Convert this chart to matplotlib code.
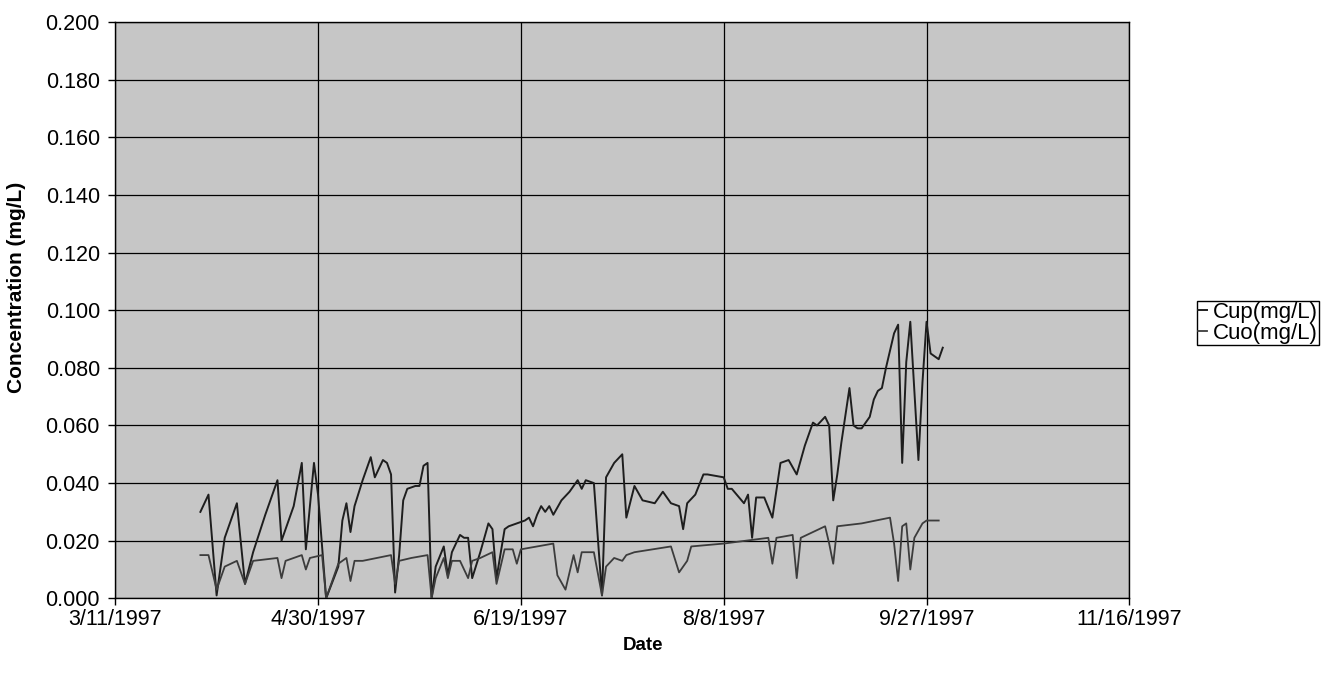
import matplotlib
matplotlib.use("Agg")
import matplotlib.pyplot as plt
import matplotlib.dates as mdates
import pandas as pd
from matplotlib.ticker import FixedLocator, FuncFormatter

plt.rcParams['font.family'] = ['Liberation Sans', 'DejaVu Sans']

# Cu concentrations, mg/L
cup_dates = [
    "1997-04-01", "1997-04-03", "1997-04-05", "1997-04-07", "1997-04-10", "1997-04-12", "1997-04-14",
    "1997-04-17", "1997-04-20", "1997-04-21", "1997-04-24", "1997-04-26", "1997-04-27", "1997-04-29",
    "1997-04-30",
    "1997-05-02", "1997-05-05", "1997-05-06", "1997-05-07", "1997-05-08", "1997-05-09", "1997-05-11",
    "1997-05-13", "1997-05-14", "1997-05-16", "1997-05-17", "1997-05-18", "1997-05-19", "1997-05-20",
    "1997-05-21", "1997-05-22", "1997-05-24", "1997-05-25", "1997-05-26", "1997-05-27", "1997-05-28",
    "1997-05-29", "1997-05-31",
    "1997-06-01", "1997-06-02", "1997-06-04", "1997-06-05", "1997-06-06", "1997-06-07", "1997-06-09",
    "1997-06-11", "1997-06-12", "1997-06-13", "1997-06-15", "1997-06-16", "1997-06-18", "1997-06-20",
    "1997-06-21", "1997-06-22", "1997-06-23", "1997-06-24", "1997-06-25", "1997-06-26", "1997-06-27",
    "1997-06-29",
    "1997-07-01", "1997-07-03", "1997-07-04", "1997-07-05", "1997-07-07", "1997-07-09", "1997-07-10",
    "1997-07-12", "1997-07-14", "1997-07-15", "1997-07-17", "1997-07-19", "1997-07-22", "1997-07-24",
    "1997-07-26", "1997-07-28", "1997-07-29", "1997-07-30",
    "1997-08-01", "1997-08-03", "1997-08-04", "1997-08-08", "1997-08-09", "1997-08-10", "1997-08-13",
    "1997-08-14", "1997-08-15", "1997-08-16", "1997-08-18", "1997-08-20", "1997-08-22", "1997-08-24",
    "1997-08-26", "1997-08-28", "1997-08-30", "1997-08-31",
    "1997-09-02", "1997-09-03", "1997-09-04", "1997-09-05", "1997-09-06", "1997-09-08", "1997-09-09",
    "1997-09-10", "1997-09-11", "1997-09-13", "1997-09-14", "1997-09-15", "1997-09-16", "1997-09-17",
    "1997-09-19", "1997-09-20", "1997-09-21", "1997-09-22", "1997-09-23", "1997-09-25", "1997-09-26",
    "1997-09-27", "1997-09-28", "1997-09-30",
    "1997-10-01",
]
cup_values = [
    0.030, 0.036, 0.001, 0.021, 0.033, 0.005, 0.016, 0.029, 0.041, 0.020, 0.032, 0.047, 0.017, 0.047,
    0.036,
    0.000, 0.011, 0.027, 0.033, 0.023, 0.032, 0.041, 0.049, 0.042, 0.048, 0.047, 0.043, 0.002, 0.015,
    0.034, 0.038, 0.039, 0.039, 0.046, 0.047, 0.000, 0.011, 0.018,
    0.008, 0.016, 0.022, 0.021, 0.021, 0.007, 0.016, 0.026, 0.024, 0.007, 0.024, 0.025, 0.026, 0.027,
    0.028, 0.025, 0.029, 0.032, 0.030, 0.032, 0.029, 0.034,
    0.037, 0.041, 0.038, 0.041, 0.040, 0.001, 0.042, 0.047, 0.050, 0.028, 0.039, 0.034, 0.033, 0.037,
    0.033, 0.032, 0.024, 0.033,
    0.036, 0.043, 0.043, 0.042, 0.038, 0.038, 0.033, 0.036, 0.021, 0.035, 0.035, 0.028, 0.047, 0.048,
    0.043, 0.053, 0.061, 0.060,
    0.063, 0.060, 0.034, 0.043, 0.054, 0.073, 0.060, 0.059, 0.059, 0.063, 0.069, 0.072, 0.073, 0.080,
    0.092, 0.095, 0.047, 0.082, 0.096, 0.048, 0.075, 0.096, 0.085, 0.083,
    0.087,
]

cuo_dates = [
    "1997-04-01", "1997-04-03", "1997-04-05", "1997-04-07", "1997-04-10", "1997-04-12", "1997-04-14",
    "1997-04-20", "1997-04-21", "1997-04-22", "1997-04-26", "1997-04-27", "1997-04-28",
    "1997-05-01", "1997-05-02", "1997-05-05", "1997-05-07", "1997-05-08", "1997-05-09", "1997-05-11",
    "1997-05-18", "1997-05-19", "1997-05-20", "1997-05-23", "1997-05-27", "1997-05-28", "1997-05-29",
    "1997-05-31",
    "1997-06-01", "1997-06-02", "1997-06-04", "1997-06-06", "1997-06-07", "1997-06-09", "1997-06-12",
    "1997-06-13", "1997-06-15", "1997-06-17", "1997-06-18", "1997-06-19", "1997-06-27", "1997-06-28",
    "1997-06-30",
    "1997-07-02", "1997-07-03", "1997-07-04", "1997-07-07", "1997-07-09", "1997-07-10", "1997-07-12",
    "1997-07-14", "1997-07-15", "1997-07-17", "1997-07-26", "1997-07-28", "1997-07-30", "1997-07-31",
    "1997-08-08", "1997-08-19", "1997-08-20", "1997-08-21", "1997-08-25", "1997-08-26", "1997-08-27",
    "1997-09-02", "1997-09-03", "1997-09-04", "1997-09-05", "1997-09-11", "1997-09-18", "1997-09-19",
    "1997-09-20", "1997-09-21", "1997-09-22", "1997-09-23", "1997-09-24", "1997-09-26", "1997-09-27",
    "1997-09-30",
]
cuo_values = [
    0.015, 0.015, 0.003, 0.011, 0.013, 0.005, 0.013, 0.014, 0.007, 0.013, 0.015, 0.010, 0.014,
    0.015, 0.000, 0.012, 0.014, 0.006, 0.013, 0.013, 0.015, 0.005, 0.013, 0.014, 0.015, 0.000, 0.007,
    0.014,
    0.007, 0.013, 0.013, 0.007, 0.013, 0.014, 0.016, 0.005, 0.017, 0.017, 0.012, 0.017, 0.019, 0.008,
    0.003,
    0.015, 0.009, 0.016, 0.016, 0.001, 0.011, 0.014, 0.013, 0.015, 0.016, 0.018, 0.009, 0.013, 0.018,
    0.019, 0.021, 0.012, 0.021, 0.022, 0.007, 0.021,
    0.025, 0.019, 0.012, 0.025, 0.026, 0.028, 0.019, 0.006, 0.025, 0.026, 0.010, 0.021, 0.026, 0.027,
    0.027,
]

x_ticks = ["1997-03-11", "1997-04-30", "1997-06-19", "1997-08-08", "1997-09-27", "1997-11-16"]
y_ticks = [0.000, 0.020, 0.040, 0.060, 0.080, 0.100, 0.120, 0.140, 0.160, 0.180, 0.200]


def excel_date(x, pos=None):
    # m/d/yyyy without leading zeros
    d = mdates.num2date(x)
    return f"{d.month}/{d.day}/{d.year}"


def draw():
    fig = plt.figure(figsize=(13.24, 6.73), dpi=100)
    ax = fig.add_axes([0.087, 0.111, 0.766, 0.856])
    ax.set_facecolor('#c6c6c6')

    cup_x = pd.to_datetime(cup_dates)
    cuo_x = pd.to_datetime(cuo_dates)
    ax.plot(cup_x, cup_values, color='#1e1e1e', linewidth=1.4, label='Cup(mg/L)', zorder=3)
    ax.plot(cuo_x, cuo_values, color='#3c3c3c', linewidth=1.3, label='Cuo(mg/L)', zorder=3)

    xt = [mdates.date2num(pd.Timestamp(t)) for t in x_ticks]
    ax.set_xlim(xt[0], xt[-1])
    ax.set_ylim(0, 0.2)
    ax.xaxis.set_major_locator(FixedLocator(xt))
    ax.xaxis.set_major_formatter(FuncFormatter(excel_date))
    ax.yaxis.set_major_locator(FixedLocator(y_ticks))
    ax.yaxis.set_major_formatter(FuncFormatter(lambda v, p: f"{v:.3f}"))

    ax.grid(True, color='black', linewidth=0.9)
    ax.set_axisbelow(True)
    for s in ax.spines.values():
        s.set_color('black')
        s.set_linewidth(1.0)
    ax.tick_params(direction='out', length=5, width=1, colors='black', labelsize=15.5)
    ax.tick_params(axis='x', pad=3)
    ax.tick_params(axis='y', pad=6)

    ax.set_xlabel('Date', fontsize=13.5, fontweight='bold')
    ax.xaxis.set_label_coords(0.52, -0.068)
    ax.set_ylabel('Concentration (mg/L)', fontsize=15, fontweight='bold')
    ax.yaxis.set_label_coords(-0.088, 0.54)

    leg = fig.legend(loc='upper left', bbox_to_anchor=(0.904, 0.553), fontsize=16,
                     handlelength=0.4, handletextpad=0.25, borderpad=0.05, labelspacing=0.0,
                     borderaxespad=0.0, fancybox=False, framealpha=1, edgecolor='black')
    leg.get_frame().set_linewidth(1.0)

    fig.savefig('out.png', dpi=100)
    plt.close(fig)


if __name__ == '__main__':
    draw()
